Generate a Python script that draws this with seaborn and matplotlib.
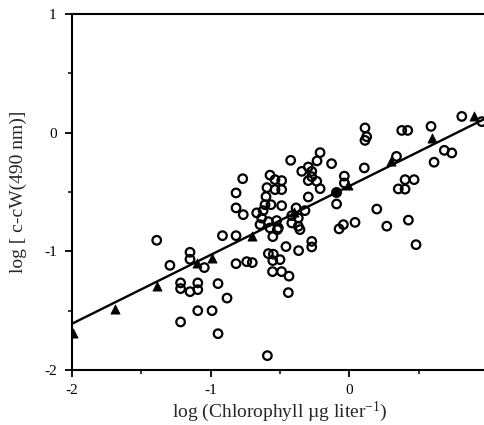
import numpy as np
import pandas as pd
import matplotlib

matplotlib.use("Agg")
import matplotlib.pyplot as plt
import seaborn as sns
from matplotlib.ticker import MultipleLocator

# open circles: log chlorophyll vs log[c - cW(490)]
circle_x = [
    -1.389, -1.294, -1.149, -1.149, -1.046, -1.217, -1.217, -1.093, -1.093, -1.149,
    -0.947, -0.882, -1.093, -0.990, -1.217, -0.947, -0.915, -0.817, -0.817, -0.740,
    -0.700, -0.591, -0.584, -0.548, -0.552, -0.500, -0.554, -0.489, -0.435, -0.440,
    -0.457, -0.366, -0.552, -0.519, -0.356, -0.271, -0.271, -0.769, -0.817, -0.817,
    -0.765, -0.572, -0.536, -0.488, -0.594, -0.536, -0.488, -0.601, -0.608, -0.565,
    -0.488, -0.622, -0.668, -0.632, -0.584, -0.524, -0.644, -0.572, -0.512, -0.423,
    -0.384, -0.415, -0.368, -0.415, -0.368, -0.320, -0.343, -0.296, -0.271, -0.271,
    -0.296, -0.235, -0.211, -0.296, -0.211, -0.233, -0.128, -0.036, -0.036, -0.092,
    0.113, 0.125, 0.113, 0.108, 0.198, 0.041, -0.043, -0.074, 0.270, 0.426,
    0.481, 0.378, 0.421, 0.340, 0.353, 0.402, 0.467, 0.402, 0.589, 0.685,
    0.739, 0.611, 0.811, 0.955,
]
circle_y = [
    -0.907, -1.118, -1.008, -1.067, -1.137, -1.266, -1.314, -1.266, -1.323, -1.340,
    -1.272, -1.394, -1.500, -1.500, -1.595, -1.694, -0.868, -0.868, -1.104, -1.087,
    -1.095, -1.879, -1.019, -1.024, -1.078, -1.070, -1.171, -1.171, -1.209, -1.348,
    -0.960, -0.994, -0.876, -0.817, -0.817, -0.916, -0.963, -0.388, -0.508, -0.634,
    -0.691, -0.358, -0.396, -0.404, -0.463, -0.480, -0.480, -0.539, -0.607, -0.607,
    -0.615, -0.657, -0.676, -0.720, -0.750, -0.741, -0.775, -0.803, -0.803, -0.233,
    -0.634, -0.699, -0.719, -0.761, -0.789, -0.657, -0.326, -0.289, -0.326, -0.371,
    -0.404, -0.410, -0.472, -0.542, -0.168, -0.238, -0.261, -0.366, -0.424, -0.601,
    0.040, -0.034, -0.065, -0.297, -0.644, -0.756, -0.775, -0.811, -0.788, -0.737,
    -0.944, 0.019, 0.019, -0.200, -0.474, -0.396, -0.396, -0.476, 0.053, -0.149,
    -0.171, -0.249, 0.137, 0.093,
]

# filled triangles
tri_x = [-1.996, -1.690, -1.389, -1.101, -0.992, -0.704, -0.399, -0.007, 0.301, 0.599, 0.902]
tri_y = [-1.685, -1.485, -1.295, -1.095, -1.057, -0.874, -0.666, -0.438, -0.236, -0.045, 0.137]

# single filled circle
dot_x = [-0.096]
dot_y = [-0.497]

# regression line
slope = 0.58
intercept = -0.45

x_ticks = [-2, -1, 0, 1]
x_labels = ["-2", "-1", "0", ""]   # the "1" falls off the cropped edge
y_ticks = [-2, -1, 0, 1]
y_labels = ["-2", "-1", "0", "1"]

circles = pd.DataFrame({"x": circle_x, "y": circle_y})
tris = pd.DataFrame({"x": tri_x, "y": tri_y})
dots = pd.DataFrame({"x": dot_x, "y": dot_y})

sns.set_theme(style="ticks")
plt.rcParams["font.family"] = ["Liberation Serif", "DejaVu Serif"]
plt.rcParams["mathtext.fontset"] = "custom"
plt.rcParams["mathtext.rm"] = "Liberation Serif"
plt.rcParams["mathtext.it"] = "Liberation Serif"
plt.rcParams["axes.unicode_minus"] = False

fig = plt.figure(figsize=(4.85, 4.25), dpi=100)
ax = fig.add_axes([72 / 485, 55 / 425, 416 / 485, 356 / 425])

xmin, xmax = x_ticks[0], x_ticks[-1]
fit = pd.DataFrame({"x": [xmin, xmax]})
fit["y"] = slope * fit["x"] + intercept
sns.lineplot(data=fit, x="x", y="y", color="black", linewidth=1.7, ax=ax)

sns.scatterplot(data=circles, x="x", y="y", marker="o", s=38,
                facecolor="none", edgecolor="black", linewidth=1.6, ax=ax, zorder=3)
sns.scatterplot(data=tris, x="x", y="y", marker="^", s=44,
                color="black", edgecolor="black", linewidth=0.5, ax=ax, zorder=4)
sns.scatterplot(data=dots, x="x", y="y", marker="o", s=55,
                color="black", edgecolor="black", linewidth=0.5, ax=ax, zorder=4)

ax.set_xlim(xmin, xmax)
ax.set_ylim(y_ticks[0], y_ticks[-1])
ax.set_xticks(x_ticks)
ax.set_xticklabels(x_labels)
ax.set_yticks(y_ticks)
ax.set_yticklabels(y_labels)
ax.xaxis.set_minor_locator(MultipleLocator(0.5))
ax.yaxis.set_minor_locator(MultipleLocator(0.5))
ax.tick_params(which="major", direction="out", length=5, width=1.3,
               labelsize=11, color="black", labelcolor="black")
ax.tick_params(which="minor", direction="out", length=3, width=1.1, color="black")
ax.tick_params(axis="x", pad=5)
ax.tick_params(axis="y", pad=6)

for side in ["left", "bottom", "top", "right"]:
    ax.spines[side].set_visible(True)
    ax.spines[side].set_color("black")
    ax.spines[side].set_linewidth(1.5)

ax.set_xlabel("log (Chlorophyll µg liter$^{-1}$)", fontsize=14, labelpad=2)
ax.set_ylabel("log [ c-cW(490 nm)]", fontsize=14, labelpad=12)

plt.savefig("out.png", dpi=100)
plt.close()
